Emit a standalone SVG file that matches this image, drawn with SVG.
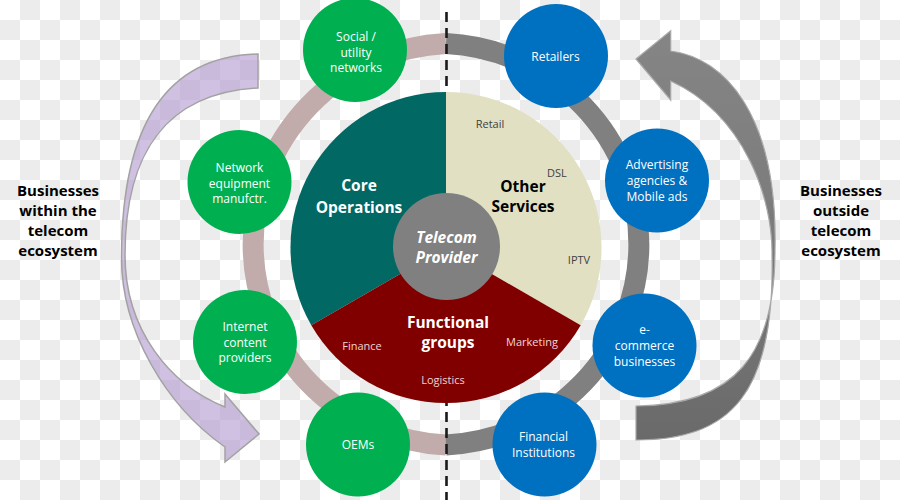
<svg xmlns="http://www.w3.org/2000/svg" width="900" height="500" viewBox="0 0 900 500">
<defs>
<pattern id="checker" patternUnits="userSpaceOnUse" width="40" height="40">
<rect width="40" height="40" fill="#ffffff"/>
<rect x="20" y="0" width="20" height="20" fill="#ececec"/>
<rect x="0" y="20" width="20" height="20" fill="#ececec"/>
</pattern>
<linearGradient id="grayArrow" x1="0" y1="30" x2="0" y2="440" gradientUnits="userSpaceOnUse">
<stop offset="0" stop-color="#858585"/>
<stop offset="0.5" stop-color="#7b7b7b"/>
<stop offset="1" stop-color="#6a6a6a"/>
</linearGradient>
<style>
.nodeG { fill: #00b050; }
.nodeB { fill: #0070c0; }
.nt { font-family: "Open Sans", "DejaVu Sans", sans-serif; font-size: 12px; fill: #ffffff; text-anchor: middle; }
.side { font-family: "Open Sans", "DejaVu Sans", sans-serif; font-size: 15px; font-weight: bold; fill: #000000; text-anchor: middle; }
.big { font-family: "Open Sans", "DejaVu Sans", sans-serif; font-size: 15.5px; font-weight: bold; text-anchor: middle; }
.small { font-family: "Open Sans", "DejaVu Sans", sans-serif; font-size: 11px; text-anchor: middle; }
</style>
</defs>
<rect id="background" x="0" y="0" width="900" height="500" fill="url(#checker)"/>

<g id="connectors">
<path d="M 446,43.5 A 203 201 0 0 0 446,445" fill="none" stroke="#c2abab" stroke-width="21"/>
<path d="M 446,43.5 A 203 201 0 0 1 446,445" fill="none" stroke="#808080" stroke-width="21"/>
<line x1="446.5" y1="12" x2="446.5" y2="500" stroke="#1a1a1a" stroke-width="2.6" stroke-dasharray="10 6"/>
<path id="arrow-left" d="M 258,54 C 170,56 121.5,120 121.5,258 C 121.5,330 165,405 225,447 L 225,462 L 259,434 L 225,394 L 225,407 C 170,385 125,330 125,255 C 125,155 165,93 258,88 Z" fill="#b39ace" fill-opacity="0.62" stroke="#a2a2a2" stroke-width="1.5"/>
<path id="arrow-right" d="M 636,59 L 670.7,30.7 L 670.7,51 C 725,58 778,115 775,250 C 775,355 735,405 636,406 L 636,440 C 730,440 775,395 772,255 C 773,200 745,115 670.7,81 L 670.7,100 Z" fill="url(#grayArrow)" stroke="#a8a8a8" stroke-width="1.2"/>
</g>

<g id="pie">
<path d="M 446,247.5 L 446,92 A 155.5 155.5 0 0 0 311.3,325.25 Z" fill="#016864"/>
<path d="M 446,247.5 L 446,92 A 155.5 155.5 0 0 1 580.7,325.25 Z" fill="#e1e0c3"/>
<path d="M 446,247.5 L 580.7,325.25 A 155.5 155.5 0 0 1 311.3,325.25 Z" fill="#800000"/>
<text class="big" x="359" y="191" fill="#ffffff">Core</text>
<text class="big" x="359" y="213" fill="#ffffff">Operations</text>
<text class="big" x="523" y="192" fill="#000000">Other</text>
<text class="big" x="523" y="212" fill="#000000">Services</text>
<text class="big" x="448" y="328" fill="#ffffff">Functional</text>
<text class="big" x="448" y="348" fill="#ffffff">groups</text>
<text class="small" x="490" y="128" fill="#404040">Retail</text>
<text class="small" x="557" y="177" fill="#404040">DSL</text>
<text class="small" x="579" y="264" fill="#404040">IPTV</text>
<text class="small" x="362" y="350" fill="#f0d4d4">Finance</text>
<text class="small" x="532" y="346" fill="#f0d4d4">Marketing</text>
<text class="small" x="443" y="384" fill="#f0d4d4">Logistics</text>
</g>

<g id="telecom-provider">
<circle cx="446.5" cy="246.5" r="53.5" fill="#808080"/>
<text class="big" x="446.5" y="243" fill="#ffffff" font-style="italic">Telecom</text>
<text class="big" x="446.5" y="263" fill="#ffffff" font-style="italic">Provider</text>
</g>

<g id="social-utility">
<circle class="nodeG" cx="355" cy="50" r="52"/>
<text class="nt" x="356" y="41">Social /</text>
<text class="nt" x="356" y="56.5">utility</text>
<text class="nt" x="356" y="72">networks</text>
</g>
<g id="network-equipment">
<circle class="nodeG" cx="239.5" cy="182" r="52"/>
<text class="nt" x="239.5" y="172">Network</text>
<text class="nt" x="239.5" y="187.5">equipment</text>
<text class="nt" x="239.5" y="203">manufctr.</text>
</g>
<g id="internet-content">
<circle class="nodeG" cx="245" cy="342" r="52"/>
<text class="nt" x="245" y="331">Internet</text>
<text class="nt" x="245" y="346.5">content</text>
<text class="nt" x="245" y="362">providers</text>
</g>
<g id="oems">
<circle class="nodeG" cx="358" cy="444.5" r="52"/>
<text class="nt" x="358" y="448.5">OEMs</text>
</g>
<g id="retailers">
<circle class="nodeB" cx="556" cy="56" r="52"/>
<text class="nt" x="555.5" y="61">Retailers</text>
</g>
<g id="advertising">
<circle class="nodeB" cx="657" cy="180.5" r="52"/>
<text class="nt" x="657" y="169">Advertising</text>
<text class="nt" x="657" y="185">agencies &amp;</text>
<text class="nt" x="657" y="200.5">Mobile ads</text>
</g>
<g id="e-commerce">
<circle class="nodeB" cx="644.5" cy="345.5" r="52"/>
<text class="nt" x="644.5" y="333.5">e-</text>
<text class="nt" x="644.5" y="349.5">commerce</text>
<text class="nt" x="644.5" y="365.5">businesses</text>
</g>
<g id="financial">
<circle class="nodeB" cx="544.5" cy="444.5" r="52"/>
<text class="nt" x="543.5" y="441">Financial</text>
<text class="nt" x="543.5" y="456.5">Institutions</text>
</g>

<g id="label-within">
<text class="side" x="58" y="196">Businesses</text>
<text class="side" x="58" y="216">within the</text>
<text class="side" x="58" y="236">telecom</text>
<text class="side" x="58" y="256">ecosystem</text>
</g>
<g id="label-outside">
<text class="side" x="841" y="196">Businesses</text>
<text class="side" x="841" y="216">outside</text>
<text class="side" x="841" y="236">telecom</text>
<text class="side" x="841" y="256">ecosystem</text>
</g>
</svg>
